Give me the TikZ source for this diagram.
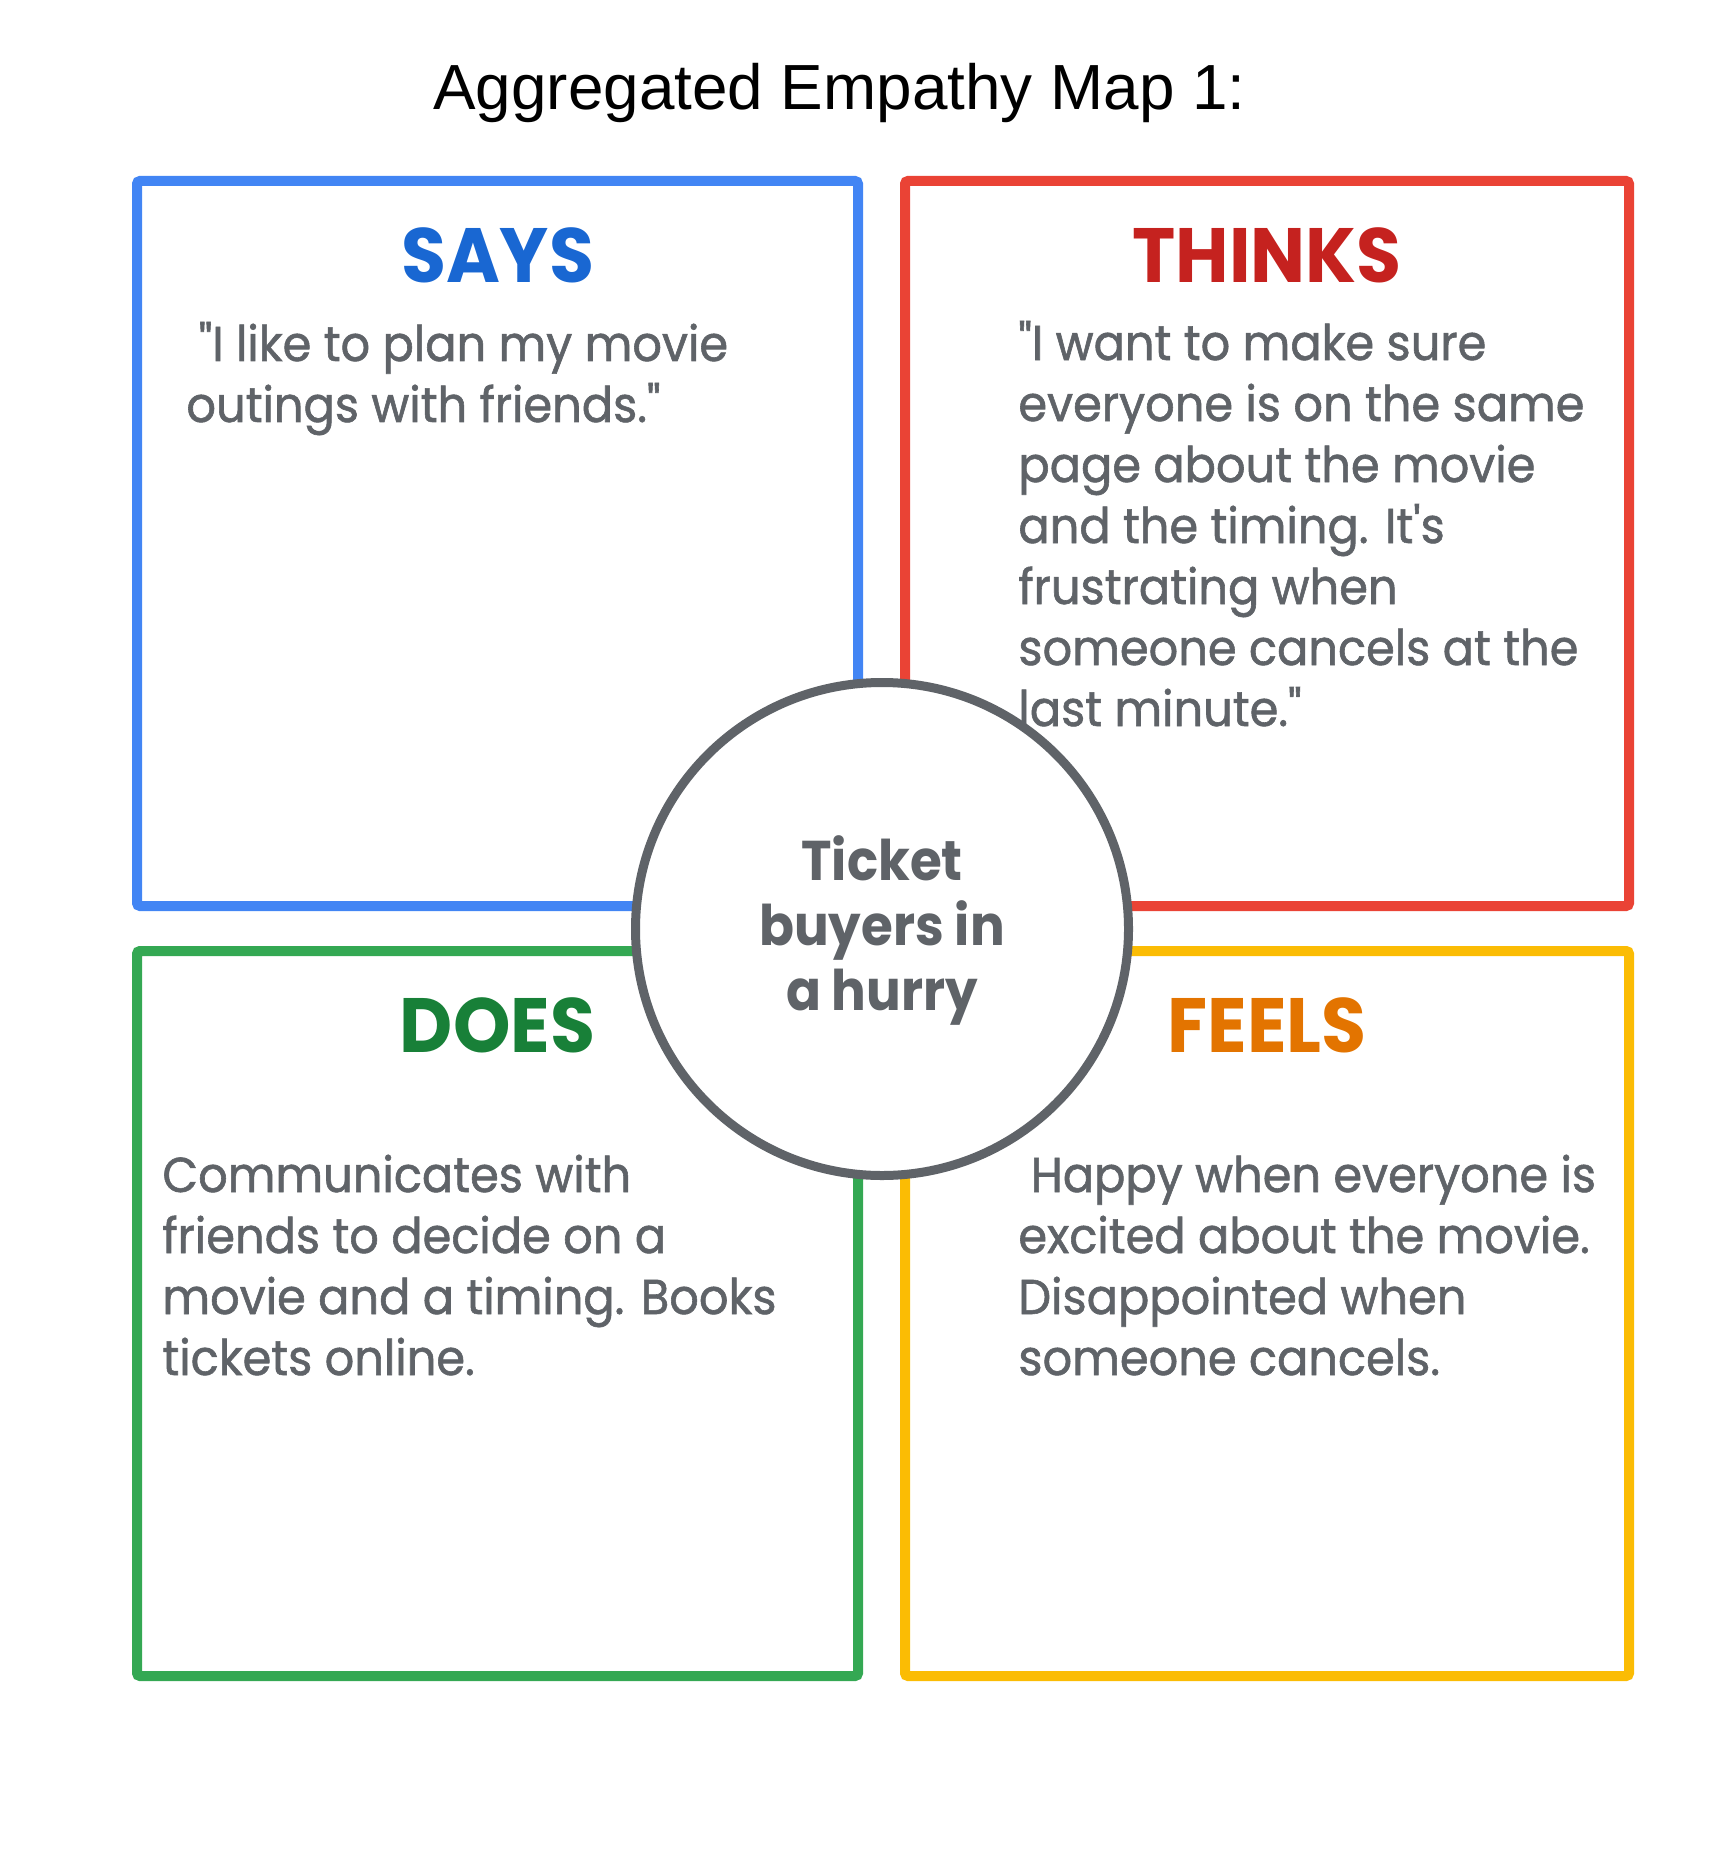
\documentclass[tikz,border=0pt]{standalone}
\usepackage{fontspec}
\setmainfont{Liberation Sans}
\newfontfamily\gsans[FakeStretch=0.945,FakeBold=1.2,Ligatures=TeXOff]{Poppins}
\newfontfamily\gsanshead[FakeStretch=0.95,Ligatures=TeXOff]{Poppins}
\newfontfamily\gsanscirc[FakeStretch=0.92,Ligatures=TeXOff]{Poppins}
\definecolor{boxblue}{HTML}{4285F4}
\definecolor{boxred}{HTML}{EA4335}
\definecolor{boxgreen}{HTML}{34A853}
\definecolor{boxyellow}{HTML}{FBBC04}
\definecolor{hblue}{HTML}{1967D2}
\definecolor{hred}{HTML}{C5221F}
\definecolor{hgreen}{HTML}{188038}
\definecolor{horange}{HTML}{E37400}
\definecolor{ggrey}{HTML}{5F6368}
\tikzset{
  quad/.style={line width=5pt, rounded corners=1.5pt},
  heading/.style={anchor=base, inner sep=0pt, font=\gsanshead\bfseries\fontsize{38.5}{40}\selectfont},
  body/.style={anchor=base west, inner sep=0pt, text=ggrey, font=\gsans\fontsize{24.5}{30.5}\selectfont},
  centertext/.style={anchor=base, inner sep=0pt, text=ggrey, font=\gsanscirc\bfseries\fontsize{28}{32.5}\selectfont},
  titletext/.style={anchor=base west, inner sep=0pt, font=\fontsize{31.9}{36}\selectfont}
}
\begin{document}
\begin{tikzpicture}[x=0.5pt, y=-0.5pt]
\useasboundingbox (0,0) rectangle (1724,1856);
\node[titletext] (title) at (433,110) {Aggregated Empathy Map 1:};
% boxes
\draw[quad, boxblue] (137,181) rectangle (858,906);
\draw[quad, boxred] (905,181) rectangle (1629,906);
\draw[quad, boxgreen] (137,951) rectangle (858,1676);
\draw[quad, boxyellow] (905,951) rectangle (1629,1676);
% headings
\node[heading, text=hblue] (says) at (497.5,283) {SAYS};
\node[heading, text=hred] (thinks) at (1267,283) {THINKS};
\node[heading, text=hgreen] (does) at (497.5,1052) {DOES};
\node[heading, text=horange] (feels) at (1267,1052) {FEELS};
% body texts
\node[body] (saystext) at (186,361) {\vtop{\hbox{\ "I like to plan my movie}\hbox{outings with friends."}}};
\node[body] (thinkstext) at (1018,360) {\vtop{\hbox{"I want to make sure}\hbox{everyone is on the same}\hbox{page about the movie}\hbox{and the timing. It's}\hbox{frustrating when}\hbox{someone cancels at the}\hbox{last minute."}}};
\node[body] (doestext) at (162,1192) {\vtop{\hbox{Communicates with}\hbox{friends to decide on a}\hbox{movie and a timing. Books}\hbox{tickets online.}}};
\node[body] (feelstext) at (1018,1192) {\vtop{\hbox{\ Happy when everyone is}\hbox{excited about the movie.}\hbox{Disappointed when}\hbox{someone cancels.}}};
% center circle
\draw[line width=4.5pt, ggrey, fill=white] (882,929) circle[radius=246.5];
\node[centertext] (persona) at (882,880) {\vtop{\halign{\hfil#\hfil\cr Ticket\cr buyers in\cr a hurry\cr}}};
\end{tikzpicture}
\end{document}
